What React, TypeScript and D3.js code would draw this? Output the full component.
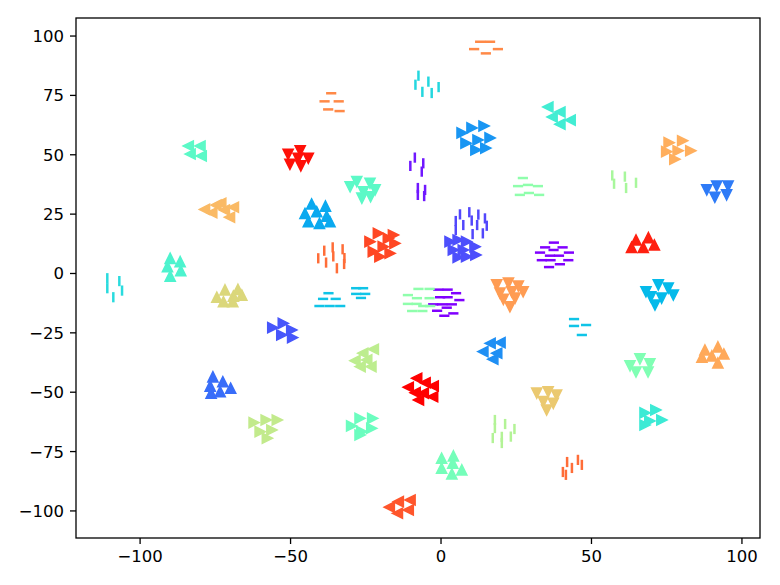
import React from "react";
import * as d3 from "d3";

const W = 780;
const H = 585;
const M = { left: 76, right: 760, top: 18, bottom: 538 };
const xDomain = [-121.3, 106.0];
const yDomain = [-111.4, 107.6];
const xTicks = [-100, -50, 0, 50, 100];
const yTicks = [-100, -75, -50, -25, 0, 25, 50, 75, 100];

// clusters: [x, y] points
const hlOrangeTop = [[13.0, 97.6], [16.3, 97.6], [11.0, 94.5], [18.9, 94.5], [14.9, 92.7]];
const hlOrangeLeft = [[-36.5, 75.9], [-38.7, 72.5], [-34.0, 72.5], [-37.5, 69.1], [-33.7, 68.4]];
const vlCyanTop = [[-7.5, 83.3], [-8.5, 79.5], [-4.2, 80.8], [-6.2, 76.5], [-3.1, 76.0], [-0.8, 78.5]];
const ltMintTop = [[35.5, 70.1], [39.5, 68.0], [36.9, 65.9], [42.9, 64.6], [39.5, 62.9]];
const rtBlueTop = [[7.0, 59.2], [10.3, 61.3], [14.3, 62.1], [16.3, 57.1], [8.3, 54.9], [12.3, 56.2], [14.9, 52.8], [11.6, 52.0]];
const vlPurple = [[-8.7, 48.8], [-10.2, 45.3], [-5.9, 46.4], [-6.4, 42.9], [-7.7, 36.0], [-7.7, 33.1], [-5.3, 35.2], [-5.6, 32.6]];
const dnRed = [[-50.8, 50.2], [-46.8, 51.7], [-44.1, 48.5], [-50.2, 46.0], [-46.6, 45.3], [-47.5, 48.5]];
const ltMintLeft = [[-84.0, 53.7], [-80.1, 53.7], [-83.4, 50.3], [-79.7, 49.5]];
const ltOrangeLeft = [[-78.6, 27.0], [-76.2, 25.6], [-73.2, 29.6], [-72.0, 26.7], [-70.3, 23.7], [-69.0, 27.9], [-74.8, 28.8]];
const upBlue = [[-43.0, 29.3], [-38.4, 28.4], [-45.2, 25.3], [-41.3, 26.0], [-38.0, 24.2], [-44.1, 21.8], [-40.4, 21.1], [-36.9, 21.8]];
const dnMint = [[-28.0, 38.7], [-23.6, 38.0], [-30.2, 36.5], [-25.8, 34.4], [-21.9, 35.2], [-26.3, 31.7], [-23.4, 32.3]];
const hlGreenTop = [[27.2, 40.2], [25.6, 36.8], [28.9, 37.3], [32.2, 36.8], [29.2, 33.9], [26.2, 33.1], [32.6, 33.1]];
const vlGreenRight = [[56.9, 41.3], [57.5, 37.8], [61.1, 40.8], [61.5, 36.0], [64.8, 38.2]];
const rtOrangeRight = [[75.8, 55.1], [80.3, 55.9], [83.0, 51.7], [75.0, 51.3], [78.8, 51.7], [77.7, 48.1]];
const dnBlueRight = [[88.3, 35.2], [91.6, 36.8], [95.4, 36.8], [91.0, 32.1], [94.9, 33.1]];
const upRed = [[64.8, 14.1], [68.9, 15.1], [63.3, 11.0], [67.2, 11.0], [70.9, 12.0]];
const dnCyan = [[68.1, -7.7], [72.2, -4.8], [75.5, -6.2], [69.7, -9.8], [73.3, -10.4], [77.2, -9.1], [71.1, -13.3]];
const hlPurple = [[37.5, 13.0], [34.6, 11.0], [40.4, 11.0], [37.4, 9.9], [42.5, 8.8], [32.9, 8.8], [36.2, 7.5], [39.2, 7.5], [33.5, 5.6], [36.4, 5.6], [42.3, 5.6], [39.5, 3.9], [35.9, 2.7],
  [-0.9, -6.8], [2.2, -6.8], [5.0, -8.3], [-0.3, -10.0], [2.2, -10.0], [6.1, -11.2], [-2.6, -13.0], [0.4, -13.0], [3.6, -13.0], [1.9, -14.4], [-1.3, -15.7], [4.1, -16.8], [1.1, -17.8]];
const vlViolet = [[4.9, 22.1], [4.9, 18.3], [6.3, 24.9], [7.4, 20.4], [9.4, 25.8], [10.2, 22.3], [10.5, 16.6], [12.4, 24.8], [12.0, 20.4], [13.9, 16.9], [14.6, 23.2], [15.2, 20.1]];
const rtViolet = [[3.0, 13.4], [5.7, 14.1], [8.5, 13.4], [11.3, 11.3], [4.1, 9.9], [7.4, 9.9], [5.7, 6.8], [8.5, 7.1], [11.6, 7.8]];
const dnOrange = [[18.5, -4.8], [22.4, -4.1], [25.7, -5.3], [19.6, -8.3], [23.5, -7.7], [27.3, -7.7], [20.7, -10.9], [24.6, -10.4], [22.9, -14.0]];
const hlGreenMid = [[-7.5, -6.5], [-3.8, -6.5], [-11.0, -9.1], [-8.0, -10.4], [-3.8, -10.4], [-11.0, -12.8], [-8.1, -12.8], [-5.9, -13.7], [-3.6, -13.7], [-9.6, -15.8], [-6.2, -15.8]];
const vlOrangeRedA = [[-40.8, 6.4], [-38.8, 9.6], [-38.2, 4.6], [-36.0, 11.0], [-35.8, 7.2], [-34.6, 2.2], [-32.7, 10.2], [-32.1, 6.5], [-32.2, 4.0]];
const rtRedOrange = [[-23.6, 13.4], [-20.8, 16.9], [-17.5, 14.8], [-15.3, 12.7], [-22.5, 9.2], [-19.2, 11.3], [-16.9, 8.5], [-20.3, 7.1], [-15.8, 16.2]];
const hlCyan = [[-37.4, -8.3], [-39.2, -10.7], [-35.0, -10.7], [-40.4, -13.7], [-37.0, -13.7], [-33.5, -13.7], [-28.2, -6.2], [-25.9, -6.2], [-28.2, -8.6], [-25.2, -8.6], [-26.6, -10.3],
  [44.2, -19.2], [48.2, -21.7], [44.2, -22.1], [46.8, -25.9]];
const vlCyanLeft = [[-110.9, -2.0], [-110.9, -6.2], [-108.9, -10.0], [-106.9, -3.2], [-106.0, -7.2]];
const upMintLeft = [[-90.0, 6.4], [-86.7, 5.0], [-90.9, 2.9], [-86.5, 1.2], [-90.0, -1.1]];
const upKhaki = [[-71.8, -6.9], [-67.5, -6.7], [-74.5, -10.0], [-69.0, -9.5], [-66.2, -9.1], [-72.3, -11.9], [-69.2, -11.9]];
const rtBlueViolet = [[-55.9, -22.8], [-52.4, -21.0], [-49.6, -23.8], [-52.9, -25.9], [-49.3, -27.0]];
const upBlueLow = [[-75.8, -43.5], [-72.5, -45.6], [-76.7, -47.4], [-69.9, -48.3], [-73.4, -49.8], [-76.4, -50.4]];
const rtYellowGreen = [[-62.1, -62.8], [-58.1, -61.7], [-54.4, -61.7], [-60.1, -66.6], [-56.2, -65.9], [-57.7, -69.4]];
const ltYellowGreen = [[-28.6, -36.7], [-26.0, -33.6], [-22.5, -31.9], [-24.7, -36.4], [-26.9, -39.2], [-23.3, -39.2]];
const ltRed = [[-10.9, -47.9], [-8.1, -44.1], [-5.3, -46.0], [-2.6, -47.4], [-8.6, -50.2], [-5.9, -50.4], [-2.8, -51.9], [-7.5, -53.3]];
const ltBlue = [[13.9, -32.9], [16.3, -29.4], [19.6, -29.1], [18.5, -33.6], [17.2, -36.1]];
const dnKhaki = [[31.8, -50.4], [35.6, -49.8], [38.4, -51.2], [34.0, -54.0], [37.3, -54.7], [35.1, -57.5]];
const vlGreenLow = [[17.9, -61.7], [17.9, -65.1], [17.2, -69.3], [21.3, -63.4], [20.2, -68.8], [20.2, -71.4], [23.2, -68.7], [24.4, -65.5]];
const rtMint = [[-29.7, -64.2], [-26.9, -61.0], [-22.7, -61.0], [-26.3, -66.6], [-23.0, -65.2], [-26.9, -68.0]];
const upMintLow = [[0.2, -77.8], [4.1, -76.8], [0.2, -82.0], [3.9, -79.9], [6.9, -82.7], [3.6, -84.4]];
const ltRedOrange = [[-17.2, -98.4], [-14.2, -96.1], [-10.3, -95.4], [-14.5, -101.0], [-10.9, -99.6]];
const dnGreen = [[62.8, -38.9], [66.1, -36.0], [69.4, -38.1], [64.8, -41.5], [68.8, -41.5]];
const upOrange = [[87.7, -32.2], [92.0, -30.9], [86.7, -35.2], [90.0, -34.7], [94.0, -33.9], [92.0, -37.7]];
const rtCyan = [[67.8, -58.7], [71.4, -57.5], [69.4, -62.1], [73.4, -61.7], [67.8, -63.8]];
const vlOrangeRedB = [[40.5, -83.6], [41.9, -79.4], [43.5, -81.9], [45.5, -78.5], [46.8, -80.6], [41.5, -84.8]];

const clusterPoints = [
  hlOrangeTop, hlOrangeLeft, vlCyanTop, ltMintTop, rtBlueTop, vlPurple, dnRed, ltMintLeft,
  ltOrangeLeft, upBlue, dnMint, hlGreenTop, vlGreenRight, rtOrangeRight, dnBlueRight, upRed,
  dnCyan, hlPurple, vlViolet, rtViolet, dnOrange, hlGreenMid, vlOrangeRedA, rtRedOrange,
  hlCyan, vlCyanLeft, upMintLeft, upKhaki, rtBlueViolet, upBlueLow, rtYellowGreen, ltYellowGreen,
  ltRed, ltBlue, dnKhaki, vlGreenLow, rtMint, upMintLow, ltRedOrange, dnGreen, upOrange, rtCyan, vlOrangeRedB,
];
const clusterMarkers = [
  "_", "_", "|", "<", ">", "|", "v", "<",
  "<", "^", "v", "_", "|", ">", "v", "^",
  "v", "_", "|", ">", "v", "_", "|", ">",
  "_", "|", "^", "^", ">", "^", ">", "<",
  "<", "<", "v", "|", ">", "^", "<", "v", "^", ">", "|",
];
const clusterHues = [
  0.82, 0.82, 0.32, 0.38, 0.2, 0.03, 0.98, 0.43,
  0.74, 0.23, 0.43, 0.53, 0.58, 0.76, 0.16, 0.96,
  0.26, 0.0, 0.09, 0.1, 0.79, 0.53, 0.86, 0.91,
  0.28, 0.33, 0.4, 0.68, 0.11, 0.14, 0.63, 0.62,
  1.0, 0.19, 0.71, 0.6, 0.46, 0.48, 0.89, 0.5, 0.77, 0.37, 0.86,
];

function rainbow(t: number): string {
  const r = Math.min(1, Math.abs(2 * t - 0.5));
  const g = Math.sin(Math.PI * t);
  const b = Math.cos((Math.PI * t) / 2);
  return d3.rgb(r * 255, g * 255, b * 255).formatHex();
}

function markerPath(m: string, s: number): string {
  const h = s / 2;
  switch (m) {
    case "^": return `M0,${-h}L${-h},${h}L${h},${h}Z`;
    case "v": return `M0,${h}L${-h},${-h}L${h},${-h}Z`;
    case "<": return `M${-h},0L${h},${-h}L${h},${h}Z`;
    case ">": return `M${h},0L${-h},${-h}L${-h},${h}Z`;
    case "|": return `M0,${-h}L0,${h}`;
    default: return `M${-h},0L${h},0`;
  }
}

export default function App() {
  const x = d3.scaleLinear().domain(xDomain).range([M.left, M.right]);
  const y = d3.scaleLinear().domain(yDomain).range([M.bottom, M.top]);
  const size = 10.2;
  const fmt = (v: number) => (v < 0 ? "\u2212" + Math.abs(v) : String(v));
  const font = "'DejaVu Sans', sans-serif";
  return (
    <svg width={W} height={H} style={{ position: "absolute", left: 0, top: 0, display: "block", background: "#fff" }}>
      <g>
        {clusterPoints.map((pts, ci) => {
          const m = clusterMarkers[ci];
          const col = rainbow(clusterHues[ci]);
          const isLine = m === "|" || m === "_";
          const d = markerPath(m, size);
          return (
            <g key={ci}>
              {pts.map((p, i) => (
                <path
                  key={i}
                  d={d}
                  transform={`translate(${x(p[0])},${y(p[1])})`}
                  fill={isLine ? "none" : col}
                  stroke={col}
                  strokeWidth={isLine ? 2.5 : 1.5}
                  strokeLinejoin="miter"
                />
              ))}
            </g>
          );
        })}
      </g>
      <rect x={M.left} y={M.top} width={M.right - M.left} height={M.bottom - M.top} fill="none" stroke="#000" strokeWidth={1.3} />
      {xTicks.map((t) => (
        <g key={"x" + t}>
          <line x1={x(t)} x2={x(t)} y1={M.bottom} y2={M.bottom + 6} stroke="#000" strokeWidth={1.3} />
          <text x={x(t)} y={M.bottom + 24} textAnchor="middle" fontFamily={font} fontSize={16.5} fill="#000">{fmt(t)}</text>
        </g>
      ))}
      {yTicks.map((t) => (
        <g key={"y" + t}>
          <line x1={M.left - 6} x2={M.left} y1={y(t)} y2={y(t)} stroke="#000" strokeWidth={1.3} />
          <text x={M.left - 12} y={y(t)} dy="0.36em" textAnchor="end" fontFamily={font} fontSize={16.5} fill="#000">{fmt(t)}</text>
        </g>
      ))}
    </svg>
  );
}
